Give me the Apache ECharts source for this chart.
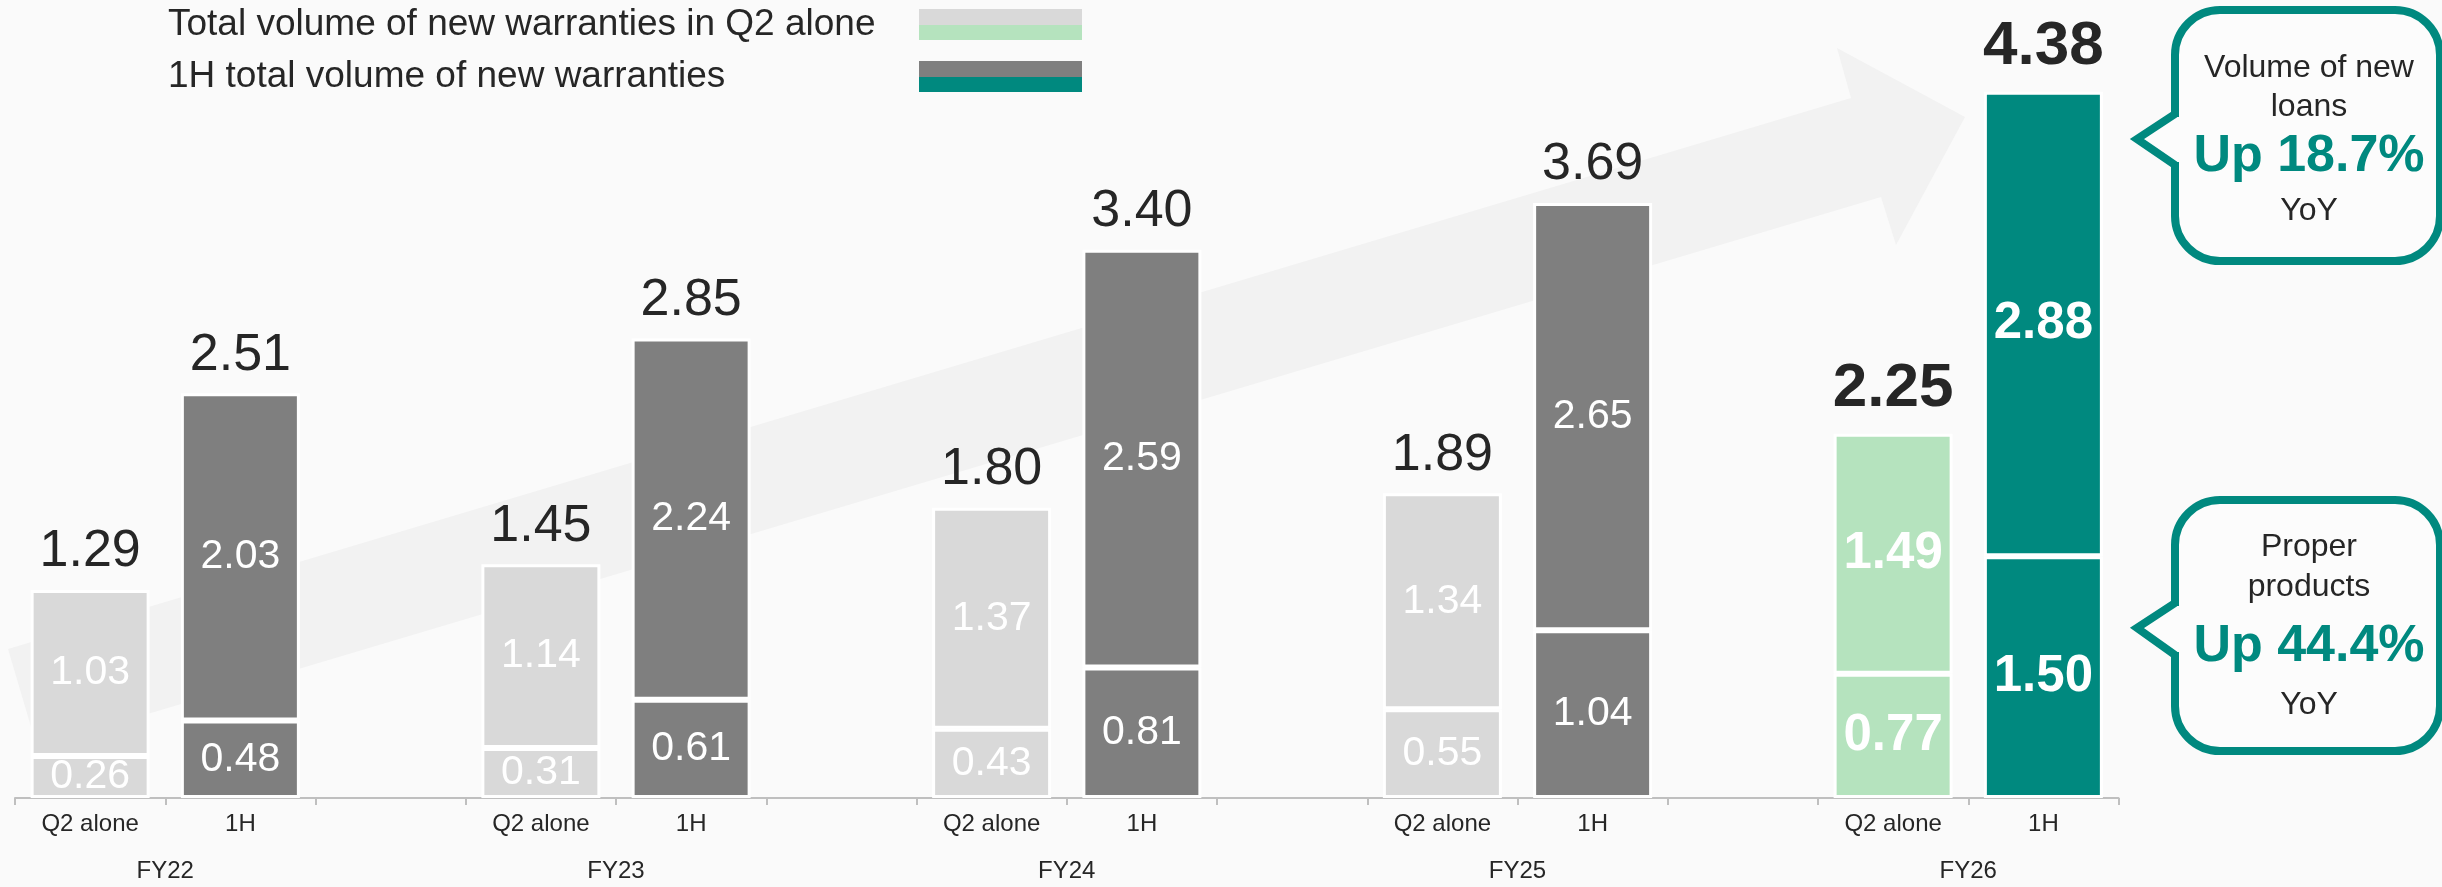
<!DOCTYPE html>
<html>
<head>
<meta charset="utf-8">
<script src="https://cdn.jsdelivr.net/npm/echarts@6/dist/echarts.min.js"></script>
<style>
html,body{margin:0;padding:0;background:#fafafa;}
#chart{width:2442px;height:887px;}
</style>
</head>
<body>
<div id="chart"></div>
<script>
// ---------- data ----------
const categories = ['Q2 alone','1H','','Q2 alone','1H','','Q2 alone','1H','','Q2 alone','1H','','Q2 alone','1H'];
const fiscalYears = ['','FY22','','','FY23','','','FY24','','','FY25','','','FY26',''];
const lowerValues = [0.26, 0.48, null, 0.31, 0.61, null, 0.43, 0.81, null, 0.55, 1.04, null, 0.77, 1.50];
const upperValues = [1.03, 2.03, null, 1.14, 2.24, null, 1.37, 2.59, null, 1.34, 2.65, null, 1.49, 2.88];
const totalValues = [1.29, 2.51, null, 1.45, 2.85, null, 1.80, 3.40, null, 1.89, 3.69, null, 2.25, 4.38];
const legendLabels = ['Total volume of new warranties in Q2 alone', '1H total volume of new warranties'];
const calloutTitles = [['Volume of new', 'loans'], ['Proper', 'products']];
const calloutChanges = ['Up 18.7%', 'Up 44.4%'];
const calloutSuffix = 'YoY';
const highlightFrom = 12; // index of first FY26 category

// ---------- styles ----------
const FONT = "'Liberation Sans', Arial, sans-serif";
const TEAL = '#00897f', LIGHT_GREEN = '#b5e3be', LIGHT_GRAY = '#d9d9d9', DARK_GRAY = '#7f7f7f';
const TEXT = '#262626', BG = '#fafafa';

function barColor(i) {
  const q2 = categories[i] === 'Q2 alone';
  if (i >= highlightFrom) return q2 ? LIGHT_GREEN : TEAL;
  return q2 ? LIGHT_GRAY : DARK_GRAY;
}
function segData(arr) {
  return arr.map((v, i) => v == null ? '-' : {
    value: v,
    itemStyle: { color: barColor(i) },
    label: i >= highlightFrom ? { fontWeight: 'bold', fontSize: 51 } : { fontWeight: 'normal', fontSize: 41 }
  });
}
function totalData() {
  return totalValues.map((v, i) => v == null ? '-' : {
    value: 0,
    label: i >= highlightFrom ? { fontWeight: 'bold', fontSize: 62, distance: 14 } : { fontWeight: 'normal', fontSize: 52, distance: 12 }
  });
}

// ---------- decorations ----------
const graphics = [];
// background arrow
graphics.push({
  type: 'polygon', z: 0, silent: true,
  shape: { points: [[8,649],[1851,98],[1837,48],[1965,117],[1896,245],[1881,197],[37,747]] },
  style: { fill: '#f2f2f2' }
});
// legend
const legendSwatches = [[LIGHT_GRAY, LIGHT_GREEN], [DARK_GRAY, TEAL]];
const legendY = [25, 77];
legendLabels.forEach((t, k) => {
  graphics.push({
    type: 'text', z: 10,
    style: { text: t, x: 168, y: legendY[k], font: '37px ' + FONT, fill: TEXT, textAlign: 'left', textVerticalAlign: 'middle' }
  });
  const top = legendY[k] - 16;
  graphics.push({ type: 'rect', z: 10, shape: { x: 919, y: top, width: 163, height: 16 }, style: { fill: legendSwatches[k][0] } });
  graphics.push({ type: 'rect', z: 10, shape: { x: 919, y: top + 16, width: 163, height: 15 }, style: { fill: legendSwatches[k][1] } });
});
// callouts
const boxes = [
  { L: 2175, T: 10, B: 261, py1: 117, py2: 162, tx: 2137, ty: 139, lines: [68, 107, 157, 211] },
  { L: 2175, T: 500, B: 751, py1: 606, py2: 652, tx: 2137, ty: 628, lines: [547, 587, 647, 705] }
];
boxes.forEach((b, k) => {
  const R = 2440;
  graphics.push({ type: 'rect', z: 10, shape: { x: b.L, y: b.T, width: R - b.L, height: b.B - b.T, r: 45 },
    style: { fill: '#fcfcfc', stroke: TEAL, lineWidth: 8 } });
  graphics.push({ type: 'polygon', z: 11, shape: { points: [[b.L + 5, b.py1], [b.L - 1, b.py1], [b.tx, b.ty], [b.L - 1, b.py2], [b.L + 5, b.py2]] },
    style: { fill: '#fcfcfc' } });
  graphics.push({ type: 'polyline', z: 12, shape: { points: [[b.L, b.py1 - 3], [b.tx, b.ty], [b.L, b.py2 + 3]] },
    style: { stroke: TEAL, lineWidth: 8, fill: null, lineJoin: 'miter' } });
  const cx = 2309;
  graphics.push({ type: 'text', z: 13, style: { text: calloutTitles[k][0], x: cx, y: b.lines[0], font: '32px ' + FONT, fill: TEXT, textAlign: 'center', textVerticalAlign: 'middle' } });
  graphics.push({ type: 'text', z: 13, style: { text: calloutTitles[k][1], x: cx, y: b.lines[1], font: '32px ' + FONT, fill: TEXT, textAlign: 'center', textVerticalAlign: 'middle' } });
  graphics.push({ type: 'text', z: 13, style: { text: calloutChanges[k], x: cx, y: b.lines[2], font: 'bold 52px ' + FONT, fill: TEAL, textAlign: 'center', textVerticalAlign: 'middle' } });
  graphics.push({ type: 'text', z: 13, style: { text: calloutSuffix, x: cx, y: b.lines[3], font: '32px ' + FONT, fill: TEXT, textAlign: 'center', textVerticalAlign: 'middle' } });
});

// ---------- chart ----------
const chart = echarts.init(document.getElementById('chart'), null, { renderer: 'canvas' });
chart.setOption({
  animation: false,
  backgroundColor: BG,
  textStyle: { fontFamily: FONT },
  grid: { left: 15, right: 323.5, top: 8, bottom: 89, containLabel: false, outerBoundsMode: 'none' },
  xAxis: [
    {
      type: 'category', data: categories, position: 'bottom',
      axisLine: { show: true, lineStyle: { color: '#bfbfbf', width: 2 } },
      axisTick: { show: true, interval: 0, length: 7, lineStyle: { color: '#bfbfbf', width: 2 } },
      axisLabel: { interval: 0, fontSize: 24, color: TEXT, margin: 14, fontFamily: FONT },
      splitLine: { show: false }
    },
    {
      type: 'category', data: fiscalYears, boundaryGap: false, position: 'bottom',
      axisLine: { show: false }, axisTick: { show: false }, splitLine: { show: false },
      axisLabel: { interval: 0, fontSize: 24, color: TEXT, margin: 61, fontFamily: FONT }
    }
  ],
  yAxis: { type: 'value', min: 0, max: 4.9, show: false, splitLine: { show: false } },
  graphic: graphics,
  series: [
    {
      type: 'bar', stack: 'total', barWidth: 119, xAxisIndex: 0,
      data: segData(lowerValues),
      itemStyle: { borderColor: '#ffffff', borderWidth: 3 },
      label: { show: true, position: 'inside', color: '#ffffff', fontFamily: FONT, formatter: p => Number(p.value).toFixed(2) }
    },
    {
      type: 'bar', stack: 'total', barWidth: 119, xAxisIndex: 0,
      data: segData(upperValues),
      itemStyle: { borderColor: '#ffffff', borderWidth: 3 },
      label: { show: true, position: 'inside', color: '#ffffff', fontFamily: FONT, formatter: p => Number(p.value).toFixed(2) }
    },
    {
      type: 'bar', stack: 'total', barWidth: 119, xAxisIndex: 0,
      data: totalData(),
      itemStyle: { color: 'rgba(0,0,0,0)', borderWidth: 0 },
      label: { show: true, position: 'top', color: TEXT, fontFamily: FONT, formatter: p => totalValues[p.dataIndex].toFixed(2) }
    }
  ]
});
</script>
</body>
</html>
